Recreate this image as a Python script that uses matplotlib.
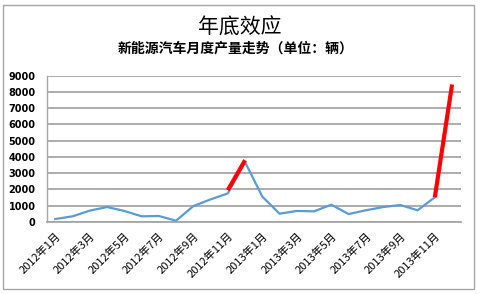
import matplotlib
matplotlib.use("Agg")
import matplotlib.pyplot as plt
import numpy as np
from matplotlib.patches import Rectangle

plt.rcParams['font.family'] = ['Noto Sans CJK SC', 'DejaVu Sans']

months = [f"2012年{m}月" for m in range(1, 13)] + [f"2013年{m}月" for m in range(1, 13)]
production = [185, 350, 700, 920, 680, 350, 370, 80, 980, 1390, 1760, 3680,
              1560, 510, 680, 655, 1065, 490, 720, 920, 1045, 720, 1520, np.nan]
# highlighted year-end jumps (red segments)
jump_2012 = [1960, 3800]      # 2012-11 -> 2012-12
jump_2013 = [1520, 8460]      # 2013-11 -> 2013-12
title = "年底效应"
subtitle = "新能源汽车月度产量走势（单位：辆）"
yticks = list(range(0, 9001, 1000))

fig = plt.figure(figsize=(4.8, 2.94), dpi=100)
fig.patches.append(Rectangle((3/480, 1 - 289/294), 471/480, 284/294, transform=fig.transFigure,
                             fill=False, edgecolor='#a6a6a6', linewidth=1.0))
ax = fig.add_axes([46.7/480, 1 - 222/294, 414/480, 146.3/294])

x = np.arange(len(months))
ax.plot(x, production, color='#5B9BD5', linewidth=1.6, zorder=3)
ax.plot([10, 11], jump_2012, color='#FF0000', linewidth=3.0, zorder=4, solid_capstyle='butt')
ax.plot([22, 23], jump_2013, color='#FF0000', linewidth=3.0, zorder=4, solid_capstyle='butt')

ax.set_xlim(-0.5, len(months) - 0.5)
ax.set_ylim(0, 9000)
ax.set_yticks(yticks)
ax.set_yticklabels([str(v) for v in yticks], fontsize=7, fontweight='bold', family='DejaVu Sans')
ax.yaxis.grid(True, color='#a6a6a6', linewidth=1.3)
ax.set_axisbelow(True)
ax.tick_params(axis='both', length=0)
ax.tick_params(axis='y', pad=8)
ax.set_xticks(x[::2])
ax.set_xticklabels(months[::2], fontsize=8, rotation=45, ha='right', rotation_mode='anchor')
ax.tick_params(axis='x', pad=6)
for s in ['top', 'right']:
    ax.spines[s].set_visible(False)
ax.spines['left'].set_color('#a6a6a6')
ax.spines['bottom'].set_color('#a6a6a6')
ax.spines['left'].set_linewidth(1.0)
ax.spines['bottom'].set_linewidth(1.3)

fig.text(240/480, 1 - 28/294, title, ha='center', va='center', fontsize=15)
fig.text(236/480, 1 - 49/294, subtitle, ha='center', va='center', fontsize=10, fontweight='bold')

fig.savefig("out.png", dpi=100)
